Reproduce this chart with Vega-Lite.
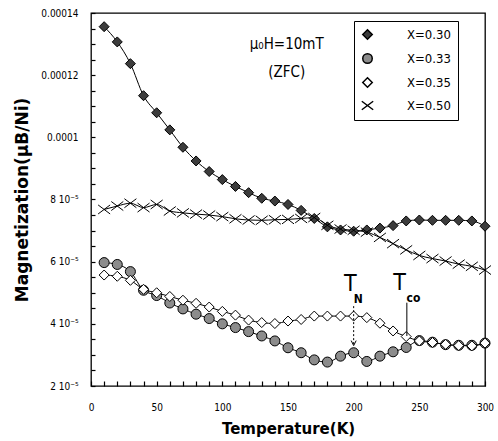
{
  "$schema": "https://vega.github.io/schema/vega-lite/v6.json",
  "width": 394,
  "height": 373,
  "autosize": "none",
  "padding": {"left": 91, "top": 13, "right": 13, "bottom": 55},
  "background": "white",
  "config": {
    "view": {"stroke": "black", "strokeWidth": 1.3},
    "font": "DejaVu Sans Condensed",
    "axis": {
      "domain": false,
      "grid": false,
      "zindex": 1,
      "tickColor": "black",
      "tickWidth": 1.2,
      "labelColor": "black",
      "labelFont": "DejaVu Sans Condensed",
      "labelFontSize": 10,
      "labelOverlap": false,
      "labelFlush": false,
      "titleColor": "black",
      "titleFont": "DejaVu Sans",
      "titleFontWeight": "bold",
      "titleFontSize": 15
    },
    "legend": {
      "strokeColor": "black",
      "fillColor": "white",
      "padding": 7,
      "labelFont": "DejaVu Sans Condensed",
      "labelFontSize": 13,
      "labelColor": "black",
      "rowPadding": 7,
      "symbolSize": 90,
      "labelOffset": 33
    }
  },
  "datasets": {
    "mag": [
      {"series": "X=0.30", "T": 10, "M": 13.56e-5},
      {"series": "X=0.30", "T": 20, "M": 13.07e-5},
      {"series": "X=0.30", "T": 30, "M": 12.37e-5},
      {"series": "X=0.30", "T": 40, "M": 11.34e-5},
      {"series": "X=0.30", "T": 50, "M": 10.79e-5},
      {"series": "X=0.30", "T": 60, "M": 10.24e-5},
      {"series": "X=0.30", "T": 70, "M": 9.68e-5},
      {"series": "X=0.30", "T": 80, "M": 9.24e-5},
      {"series": "X=0.30", "T": 90, "M": 8.90e-5},
      {"series": "X=0.30", "T": 100, "M": 8.64e-5},
      {"series": "X=0.30", "T": 110, "M": 8.42e-5},
      {"series": "X=0.30", "T": 120, "M": 8.22e-5},
      {"series": "X=0.30", "T": 130, "M": 8.04e-5},
      {"series": "X=0.30", "T": 140, "M": 7.95e-5},
      {"series": "X=0.30", "T": 150, "M": 7.84e-5},
      {"series": "X=0.30", "T": 160, "M": 7.65e-5},
      {"series": "X=0.30", "T": 170, "M": 7.39e-5},
      {"series": "X=0.30", "T": 180, "M": 7.12e-5},
      {"series": "X=0.30", "T": 190, "M": 7.02e-5},
      {"series": "X=0.30", "T": 200, "M": 6.98e-5},
      {"series": "X=0.30", "T": 210, "M": 7.02e-5},
      {"series": "X=0.30", "T": 220, "M": 7.08e-5},
      {"series": "X=0.30", "T": 230, "M": 7.16e-5},
      {"series": "X=0.30", "T": 240, "M": 7.31e-5},
      {"series": "X=0.30", "T": 250, "M": 7.34e-5},
      {"series": "X=0.30", "T": 260, "M": 7.33e-5},
      {"series": "X=0.30", "T": 270, "M": 7.33e-5},
      {"series": "X=0.30", "T": 280, "M": 7.33e-5},
      {"series": "X=0.30", "T": 290, "M": 7.31e-5},
      {"series": "X=0.30", "T": 300, "M": 7.14e-5},
      {"series": "X=0.33", "T": 10, "M": 5.97e-5},
      {"series": "X=0.33", "T": 20, "M": 5.91e-5},
      {"series": "X=0.33", "T": 30, "M": 5.68e-5},
      {"series": "X=0.33", "T": 40, "M": 5.08e-5},
      {"series": "X=0.33", "T": 50, "M": 4.91e-5},
      {"series": "X=0.33", "T": 60, "M": 4.67e-5},
      {"series": "X=0.33", "T": 70, "M": 4.48e-5},
      {"series": "X=0.33", "T": 80, "M": 4.31e-5},
      {"series": "X=0.33", "T": 90, "M": 4.17e-5},
      {"series": "X=0.33", "T": 100, "M": 4.00e-5},
      {"series": "X=0.33", "T": 110, "M": 3.88e-5},
      {"series": "X=0.33", "T": 120, "M": 3.75e-5},
      {"series": "X=0.33", "T": 130, "M": 3.61e-5},
      {"series": "X=0.33", "T": 140, "M": 3.45e-5},
      {"series": "X=0.33", "T": 150, "M": 3.23e-5},
      {"series": "X=0.33", "T": 160, "M": 3.07e-5},
      {"series": "X=0.33", "T": 170, "M": 2.84e-5},
      {"series": "X=0.33", "T": 180, "M": 2.77e-5},
      {"series": "X=0.33", "T": 190, "M": 2.96e-5},
      {"series": "X=0.33", "T": 200, "M": 3.07e-5},
      {"series": "X=0.33", "T": 210, "M": 2.79e-5},
      {"series": "X=0.33", "T": 220, "M": 2.96e-5},
      {"series": "X=0.33", "T": 230, "M": 3.10e-5},
      {"series": "X=0.33", "T": 240, "M": 3.24e-5},
      {"series": "X=0.33", "T": 250, "M": 3.46e-5},
      {"series": "X=0.33", "T": 260, "M": 3.41e-5},
      {"series": "X=0.33", "T": 270, "M": 3.33e-5},
      {"series": "X=0.33", "T": 280, "M": 3.31e-5},
      {"series": "X=0.33", "T": 290, "M": 3.31e-5},
      {"series": "X=0.33", "T": 300, "M": 3.38e-5},
      {"series": "X=0.35", "T": 10, "M": 5.57e-5},
      {"series": "X=0.35", "T": 20, "M": 5.53e-5},
      {"series": "X=0.35", "T": 30, "M": 5.40e-5},
      {"series": "X=0.35", "T": 40, "M": 5.11e-5},
      {"series": "X=0.35", "T": 50, "M": 5.00e-5},
      {"series": "X=0.35", "T": 60, "M": 4.88e-5},
      {"series": "X=0.35", "T": 70, "M": 4.76e-5},
      {"series": "X=0.35", "T": 80, "M": 4.66e-5},
      {"series": "X=0.35", "T": 90, "M": 4.54e-5},
      {"series": "X=0.35", "T": 100, "M": 4.40e-5},
      {"series": "X=0.35", "T": 110, "M": 4.28e-5},
      {"series": "X=0.35", "T": 120, "M": 4.12e-5},
      {"series": "X=0.35", "T": 130, "M": 4.04e-5},
      {"series": "X=0.35", "T": 140, "M": 4.01e-5},
      {"series": "X=0.35", "T": 150, "M": 4.09e-5},
      {"series": "X=0.35", "T": 160, "M": 4.14e-5},
      {"series": "X=0.35", "T": 170, "M": 4.25e-5},
      {"series": "X=0.35", "T": 180, "M": 4.25e-5},
      {"series": "X=0.35", "T": 190, "M": 4.25e-5},
      {"series": "X=0.35", "T": 200, "M": 4.25e-5},
      {"series": "X=0.35", "T": 210, "M": 4.20e-5},
      {"series": "X=0.35", "T": 220, "M": 4.02e-5},
      {"series": "X=0.35", "T": 230, "M": 3.77e-5},
      {"series": "X=0.35", "T": 240, "M": 3.59e-5},
      {"series": "X=0.35", "T": 250, "M": 3.45e-5},
      {"series": "X=0.35", "T": 260, "M": 3.40e-5},
      {"series": "X=0.35", "T": 270, "M": 3.34e-5},
      {"series": "X=0.35", "T": 280, "M": 3.30e-5},
      {"series": "X=0.35", "T": 290, "M": 3.29e-5},
      {"series": "X=0.35", "T": 300, "M": 3.38e-5},
      {"series": "X=0.50", "T": 10, "M": 7.68e-5},
      {"series": "X=0.50", "T": 20, "M": 7.79e-5},
      {"series": "X=0.50", "T": 30, "M": 7.88e-5},
      {"series": "X=0.50", "T": 40, "M": 7.74e-5},
      {"series": "X=0.50", "T": 50, "M": 7.84e-5},
      {"series": "X=0.50", "T": 60, "M": 7.63e-5},
      {"series": "X=0.50", "T": 70, "M": 7.57e-5},
      {"series": "X=0.50", "T": 80, "M": 7.53e-5},
      {"series": "X=0.50", "T": 90, "M": 7.50e-5},
      {"series": "X=0.50", "T": 100, "M": 7.45e-5},
      {"series": "X=0.50", "T": 110, "M": 7.38e-5},
      {"series": "X=0.50", "T": 120, "M": 7.34e-5},
      {"series": "X=0.50", "T": 130, "M": 7.33e-5},
      {"series": "X=0.50", "T": 140, "M": 7.35e-5},
      {"series": "X=0.50", "T": 150, "M": 7.36e-5},
      {"series": "X=0.50", "T": 160, "M": 7.39e-5},
      {"series": "X=0.50", "T": 170, "M": 7.42e-5},
      {"series": "X=0.50", "T": 180, "M": 7.17e-5},
      {"series": "X=0.50", "T": 190, "M": 7.05e-5},
      {"series": "X=0.50", "T": 200, "M": 7.01e-5},
      {"series": "X=0.50", "T": 210, "M": 6.95e-5},
      {"series": "X=0.50", "T": 220, "M": 6.78e-5},
      {"series": "X=0.50", "T": 230, "M": 6.58e-5},
      {"series": "X=0.50", "T": 240, "M": 6.38e-5},
      {"series": "X=0.50", "T": 250, "M": 6.20e-5},
      {"series": "X=0.50", "T": 260, "M": 6.10e-5},
      {"series": "X=0.50", "T": 270, "M": 6.02e-5},
      {"series": "X=0.50", "T": 280, "M": 5.92e-5},
      {"series": "X=0.50", "T": 290, "M": 5.85e-5},
      {"series": "X=0.50", "T": 300, "M": 5.73e-5}
    ],
    "ann": [
      {"kind": "label", "T": 149, "M": 12.99e-5, "text": "μ₀H=10mT"},
      {"kind": "label", "T": 149, "M": 12.1e-5, "text": "(ZFC)"},
      {"kind": "big", "T": 197.5, "M": 5.27e-5, "text": "T"},
      {"kind": "big", "T": 235, "M": 5.32e-5, "text": "T"},
      {"kind": "sub", "T": 203.5, "M": 4.79e-5, "text": "N"},
      {"kind": "sub", "T": 245.5, "M": 4.84e-5, "text": "co"}
    ],
    "marks": [
      {"kind": "TN", "T": 200, "M": 4.57e-5, "M2": 3.3e-5},
      {"kind": "Tco", "T": 240.5, "M": 4.68e-5, "M2": 3.61e-5}
    ],
    "arrow": [
      {"T": 200, "M": 3.3e-5}
    ]
  },
  "encoding": {
    "x": {
      "field": "T", "type": "quantitative",
      "scale": {"domain": [0, 300], "nice": false, "zero": false},
      "axis": {
        "title": "Temperature(K)",
        "values": [0,10,20,30,40,50,60,70,80,90,100,110,120,130,140,150,160,170,180,190,200,210,220,230,240,250,260,270,280,290,300],
        "labelExpr": "datum.value % 50 == 0 ? datum.label : ''",
        "tickSize": -5,
        "labelPadding": 21,
        "titlePadding": 9
      }
    },
    "y": {
      "field": "M", "type": "quantitative",
      "scale": {"domain": [2e-5, 14e-5], "nice": false, "zero": false},
      "axis": {
        "title": "Magnetization(μB/Ni)",
        "titleFontSize": 17,
        "values": [2e-5,2.5e-5,3e-5,3.5e-5,4e-5,4.5e-5,5e-5,5.5e-5,6e-5,6.5e-5,7e-5,7.5e-5,8e-5,8.5e-5,9e-5,9.5e-5,10e-5,10.5e-5,11e-5,11.5e-5,12e-5,12.5e-5,13e-5,13.5e-5,14e-5],
        "labelExpr": "abs(datum.value*1e5/2 - round(datum.value*1e5/2)) > 0.01 ? '' : datum.value > 0.000135 ? '0.00014' : datum.value > 0.000115 ? '0.00012' : datum.value > 0.000095 ? '0.0001' : round(datum.value*1e5) + ' 10⁻⁵'",
        "tickSize": -4,
        "labelPadding": 17,
        "titlePadding": 9
      }
    }
  },
  "layer": [
    {
      "data": {"name": "mag"},
      "mark": {"type": "line", "color": "black", "strokeWidth": 1, "interpolate": "monotone"},
      "encoding": {
        "detail": {"field": "series", "type": "nominal"}
      }
    },
    {
      "data": {"name": "mag"},
      "mark": {"type": "point", "filled": true, "stroke": "black", "strokeWidth": 1, "opacity": 1, "size": 100},
      "encoding": {
        "shape": {
          "field": "series", "type": "nominal",
          "scale": {"domain": ["X=0.30", "X=0.33", "X=0.35", "X=0.50"], "range": ["diamond", "circle", "diamond", "M-1.2,-0.9L1.2,0.9M-1.2,0.9L1.2,-0.9"]},
          "legend": {
            "title": null, "orient": "none", "legendX": 263, "legendY": 8,
            "strokeColor": "black", "fillColor": "white",
            "encode": {"symbols": {
              "size": {"value": 100},
              "stroke": {"value": "black"},
              "strokeWidth": {"value": 1}
            }}
          }
        },
        "fill": {
          "field": "series", "type": "nominal",
          "scale": {"domain": ["X=0.30", "X=0.33", "X=0.35", "X=0.50"], "range": ["#3c3c3c", "#8c8c8c", "#ffffff", "transparent"]},
          "legend": {"title": null, "orient": "none", "legendX": 263, "legendY": 8, "strokeColor": "black", "fillColor": "white"}
        }
      }
    },
    {
      "data": {"name": "marks"},
      "transform": [{"filter": "datum.kind == 'TN'"}],
      "mark": {"type": "rule", "color": "black", "strokeWidth": 1, "strokeDash": [2, 2]},
      "encoding": {
        "y2": {"field": "M2"}
      }
    },
    {
      "data": {"name": "marks"},
      "transform": [{"filter": "datum.kind == 'Tco'"}],
      "mark": {"type": "rule", "color": "black", "strokeWidth": 1},
      "encoding": {
        "y2": {"field": "M2"}
      }
    },
    {
      "data": {"name": "arrow"},
      "mark": {"type": "point", "shape": "M-0.5,-1L0,0L0.5,-1", "filled": false, "stroke": "black", "strokeWidth": 1, "size": 100, "opacity": 1}
    },
    {
      "data": {"name": "ann"},
      "transform": [{"filter": "datum.kind == 'label'"}],
      "mark": {"type": "text", "font": "DejaVu Sans Condensed", "fontSize": 15, "color": "black"},
      "encoding": {
        "text": {"field": "text"}
      }
    },
    {
      "data": {"name": "ann"},
      "transform": [{"filter": "datum.kind == 'big'"}],
      "mark": {"type": "text", "font": "DejaVu Sans Condensed", "fontSize": 23, "color": "black"},
      "encoding": {
        "text": {"field": "text"}
      }
    },
    {
      "data": {"name": "ann"},
      "transform": [{"filter": "datum.kind == 'sub'"}],
      "mark": {"type": "text", "font": "DejaVu Sans Condensed", "fontSize": 12, "fontWeight": "bold", "color": "black"},
      "encoding": {
        "text": {"field": "text"}
      }
    }
  ]
}
